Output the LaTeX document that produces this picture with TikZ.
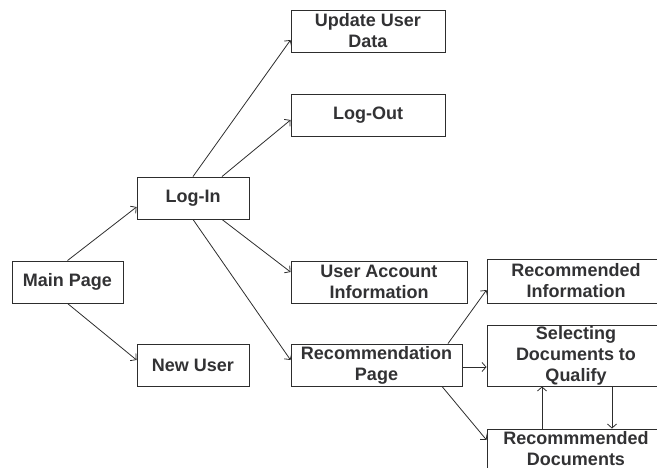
\documentclass[tikz,border=0pt]{standalone}
\usepackage{fontspec}
\setmainfont{Liberation Sans}
\usepackage{tikz}
\usetikzlibrary{arrows.meta,positioning}
\definecolor{boxline}{RGB}{45,45,45}
\definecolor{boxtext}{RGB}{50,50,52}

\begin{document}
\begin{tikzpicture}[x=1pt,y=-1pt,
  page/.style={rectangle,draw=boxline,line width=0.9pt,fill=white,inner sep=0pt,
               align=center,text=boxtext,font=\fontsize{18}{21}\selectfont\bfseries,
               minimum height=42pt},
  link/.style={-{Straight Barb[length=4pt,width=9pt]},line width=0.8pt,boxline}
]
\clip (0,0) rectangle (657,468);
\node[page,minimum width=111pt] (main) at (67.5,282) {Main Page};
\node[page,minimum width=112pt] (login) at (193,198) {Log-In};
\node[page,minimum width=112pt] (newuser) at (193,365) {New User};
\node[page,minimum width=154pt] (update) at (368,31) {Update User\\Data};
\node[page,minimum width=154pt] (logout) at (368,115) {Log-Out};
\node[page,minimum width=176pt] (account) at (379,282) {User Account\\Information};
\node[page,minimum width=171pt] (recpage) at (376.5,365) {Recommendation\\Page};
\node[page,minimum width=178pt,minimum height=44pt] (recinfo) at (576,281) {Recommended\\Information};
\node[page,minimum width=178pt,minimum height=61pt] (select) at (576,355.5) {Selecting\\Documents to\\Qualify};
\node[page,minimum width=178pt,minimum height=40pt] (recdocs) at (576,449) {Recommmended\\Documents};
% main page
\draw[link] (main.north) -- ([yshift=-9pt]login.west);
\draw[link] (main.south) -- ([yshift=5pt]newuser.west);
% log-in
\draw[link] (login.north) -- ([yshift=-9pt]update.west);
\draw[link] ([xshift=29pt]login.north) -- ([yshift=-5pt]logout.west);
\draw[link] ([xshift=29pt]login.south) -- ([yshift=10pt]account.west);
\draw[link] (login.south) -- ([yshift=5pt]recpage.west);
% recommendation page
\draw[link] ([xshift=71.5pt]recpage.north) -- ([yshift=-9pt]recinfo.west);
\draw[link] ([yshift=-2pt]recpage.east) -- ([yshift=-2pt]recpage.east -| select.west);
\draw[link] ([xshift=65.5pt]recpage.south) -- ([yshift=9pt]recdocs.west);
\draw[link] ([xshift=-34pt]recdocs.north) -- ([xshift=-34pt]select.south);
\draw[link] ([xshift=36pt]select.south) -- ([xshift=36pt]recdocs.north);
\end{tikzpicture}
\end{document}
